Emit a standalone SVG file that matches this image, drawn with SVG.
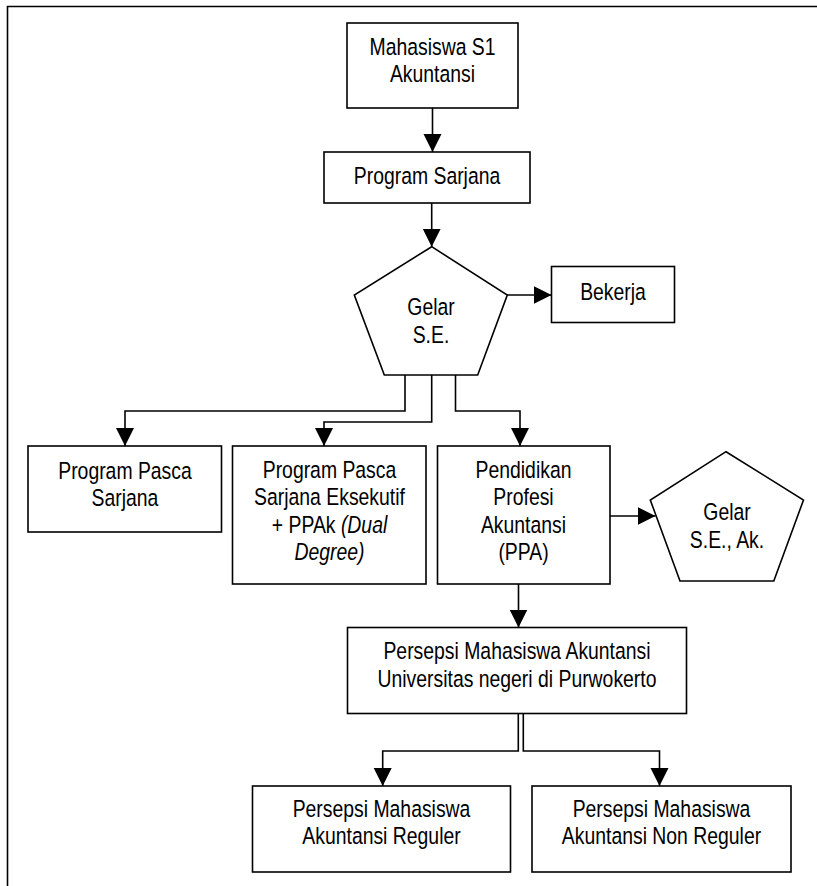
<svg xmlns="http://www.w3.org/2000/svg" width="817" height="886" viewBox="0 0 817 886">
<defs>
<style>
.box{fill:#fff;stroke:#000;stroke-width:1.6}
.frame{fill:none;stroke:#000;stroke-width:1.6}
.conn{fill:none;stroke:#000;stroke-width:1.6}
text{font-family:"Liberation Sans",Arial,sans-serif;font-size:23.5px;fill:#000;text-anchor:middle}
.it{font-style:italic}
</style>
<marker id="arr" markerUnits="userSpaceOnUse" markerWidth="19" markerHeight="19" refX="18" refY="9" orient="auto">
<path d="M0,0 L18,9 L0,18 z" fill="#000"/>
</marker>
</defs>
<rect width="817" height="886" fill="#fff"/>
<path class="frame" d="M7.5,886 V6.5 H817"/>

<g id="n-mahasiswa">
<rect class="box" x="347" y="23" width="171" height="85"/>
<text transform="translate(432.5,54.5) scale(0.825,1)">Mahasiswa S1</text>
<text transform="translate(432.5,82) scale(0.825,1)">Akuntansi</text>
</g>

<g id="n-sarjana">
<rect class="box" x="324" y="152" width="206" height="51"/>
<text transform="translate(427,184) scale(0.825,1)">Program Sarjana</text>
</g>

<g id="n-gelar-se">
<polygon class="box" points="431.7,246.7 507.3,295 477.7,375 384.3,375 354.3,295"/>
<text transform="translate(431,314.5) scale(0.825,1)">Gelar</text>
<text transform="translate(431,342.5) scale(0.825,1)">S.E.</text>
</g>

<g id="n-bekerja">
<rect class="box" x="551.5" y="266.5" width="123" height="56"/>
<text transform="translate(613,299.5) scale(0.825,1)">Bekerja</text>
</g>

<g id="n-pascasarjana">
<rect class="box" x="28" y="446" width="193.5" height="86"/>
<text transform="translate(125,478.5) scale(0.825,1)">Program Pasca</text>
<text transform="translate(125,505.5) scale(0.825,1)">Sarjana</text>
</g>

<g id="n-eksekutif">
<rect class="box" x="232.5" y="446" width="193.5" height="138"/>
<text transform="translate(329.5,478) scale(0.825,1)">Program Pasca</text>
<text transform="translate(329.5,505) scale(0.825,1)">Sarjana Eksekutif</text>
<text transform="translate(329.5,532.5) scale(0.825,1)">+ PPAk <tspan class="it">(Dual</tspan></text>
<text transform="translate(329.5,559.5) scale(0.825,1)" class="it">Degree)</text>
</g>

<g id="n-ppa">
<rect class="box" x="437.5" y="446" width="172.5" height="138"/>
<text transform="translate(523.5,478) scale(0.825,1)">Pendidikan</text>
<text transform="translate(523.5,505) scale(0.825,1)">Profesi</text>
<text transform="translate(523.5,532.5) scale(0.825,1)">Akuntansi</text>
<text transform="translate(523.5,559.5) scale(0.825,1)">(PPA)</text>
</g>

<g id="n-gelar-seak">
<polygon class="box" points="726,451.7 803.5,500 773.8,581 680,581 650.3,500"/>
<text transform="translate(727,520) scale(0.825,1)">Gelar</text>
<text transform="translate(727,548) scale(0.825,1)">S.E., Ak.</text>
</g>

<g id="n-persepsi">
<rect class="box" x="347.5" y="627.5" width="339" height="86"/>
<text transform="translate(517,658.5) scale(0.825,1)">Persepsi Mahasiswa Akuntansi</text>
<text transform="translate(517,686.5) scale(0.825,1)">Universitas negeri di Purwokerto</text>
</g>

<g id="n-reguler">
<rect class="box" x="252.5" y="786" width="258" height="86"/>
<text transform="translate(381.5,816.5) scale(0.825,1)">Persepsi Mahasiswa</text>
<text transform="translate(381.5,844) scale(0.825,1)">Akuntansi Reguler</text>
</g>

<g id="n-nonreguler">
<rect class="box" x="532" y="786" width="259" height="86"/>
<text transform="translate(661.5,816.5) scale(0.825,1)">Persepsi Mahasiswa</text>
<text transform="translate(661.5,844) scale(0.825,1)">Akuntansi Non Reguler</text>
</g>

<g id="connectors">
<path class="conn" marker-end="url(#arr)" d="M432.5,108 V152"/>
<path class="conn" marker-end="url(#arr)" d="M431.7,203 V246.7"/>
<path class="conn" marker-end="url(#arr)" d="M507.3,295 H551.5"/>
<path class="conn" marker-end="url(#arr)" d="M405,375 V411 H125 V446"/>
<path class="conn" marker-end="url(#arr)" d="M431.7,375 V422 H324 V446"/>
<path class="conn" marker-end="url(#arr)" d="M455.5,375 V411 H520 V446"/>
<path class="conn" marker-end="url(#arr)" d="M610,516 H655.5"/>
<path class="conn" marker-end="url(#arr)" d="M518.5,584 V627.5"/>
<path class="conn" marker-end="url(#arr)" d="M518.3,713.5 V751 H382.7 V786"/>
<path class="conn" marker-end="url(#arr)" d="M523.3,713.5 V751 H659.5 V786"/>
</g>
</svg>
